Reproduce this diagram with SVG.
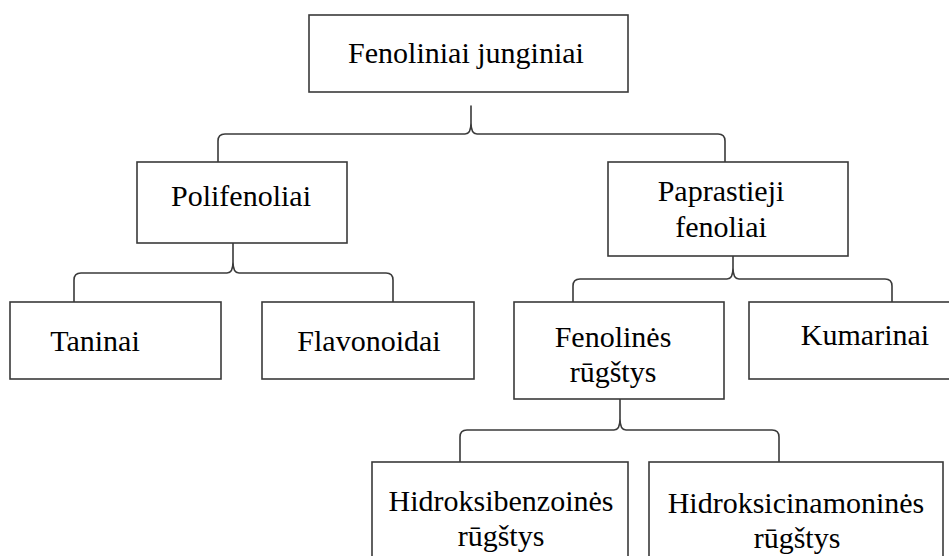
<svg xmlns="http://www.w3.org/2000/svg" width="949" height="556" viewBox="0 0 949 556">
<style>
.box{fill:#fff;stroke:#3a3a3a;stroke-width:1.6}
.br{fill:none;stroke:#3a3a3a;stroke-width:1.6;stroke-linejoin:round}
text{font-family:"Liberation Serif","Times New Roman",serif;font-size:30px;fill:#000;text-anchor:middle}
</style>
<rect width="949" height="556" fill="#fff"/>
<g id="connectors">
<path class="br" d="M218 162 L218 141 Q218 134 225 134 L465 134 Q471 134 471 123 L471 106 L471 123 Q471 134 477 134 L718 134 Q725 134 725 141 L725 162"/>
<path class="br" d="M74 302 L74 280 Q74 273 81 273 L227 273 Q233 273 233 262 L233 243 L233 262 Q233 273 239 273 L386 273 Q393 273 393 280 L393 302"/>
<path class="br" d="M573 302 L573 286 Q573 279 580 279 L727 279 Q733 279 733 268 L733 256 L733 268 Q733 279 739 279 L885 279 Q892 279 892 286 L892 302"/>
<path class="br" d="M460 462 L460 437 Q460 430 467 430 L614 430 Q620 430 620 419 L620 399 L620 419 Q620 430 626 430 L772 430 Q779 430 779 437 L779 462"/>
</g>
<g id="n-fenoliniai">
<rect class="box" x="309" y="15" width="319" height="77"/>
<text x="466" y="63">Fenoliniai junginiai</text>
</g>
<g id="n-polifenoliai">
<rect class="box" x="137" y="162" width="210" height="81"/>
<text x="241" y="206">Polifenoliai</text>
</g>
<g id="n-paprastieji">
<rect class="box" x="608" y="162" width="240" height="94"/>
<text x="721" y="201">Paprastieji</text>
<text x="721" y="237">fenoliai</text>
</g>
<g id="n-taninai">
<rect class="box" x="10" y="302" width="211" height="77"/>
<text x="95" y="351">Taninai</text>
</g>
<g id="n-flavonoidai">
<rect class="box" x="262" y="302" width="212" height="77"/>
<text x="369" y="351">Flavonoidai</text>
</g>
<g id="n-fenolines">
<rect class="box" x="514" y="302" width="210" height="97"/>
<text x="613" y="347">Fenolinės</text>
<text x="613" y="382">rūgštys</text>
</g>
<g id="n-kumarinai">
<rect class="box" x="749" y="302" width="215" height="77"/>
<text x="865" y="345">Kumarinai</text>
</g>
<g id="n-hidroksibenzoines">
<rect class="box" x="372" y="462" width="256" height="110"/>
<text x="501" y="511">Hidroksibenzoinės</text>
<text x="501" y="546">rūgštys</text>
</g>
<g id="n-hidroksicinamonines">
<rect class="box" x="649" y="462" width="294" height="110"/>
<text x="796" y="513">Hidroksicinamoninės</text>
<text x="797" y="548">rūgštys</text>
</g>
</svg>
